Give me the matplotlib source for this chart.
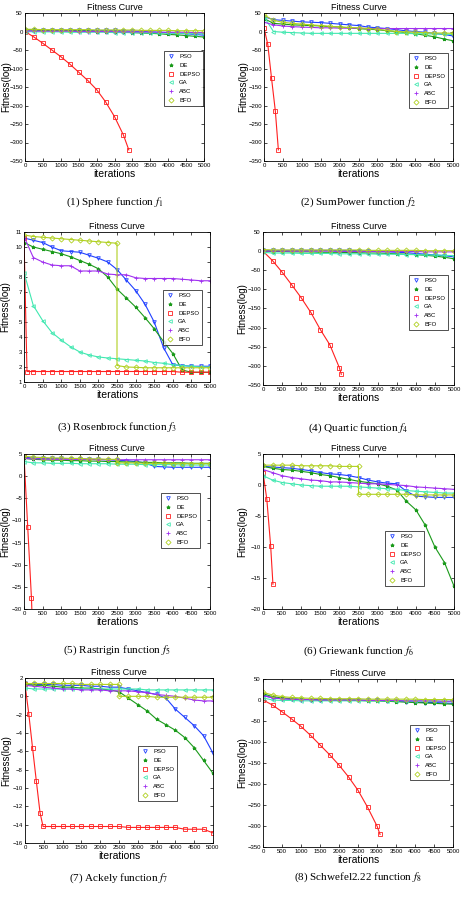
import numpy as np
import matplotlib
matplotlib.use("Agg")
import matplotlib.pyplot as plt
from matplotlib.lines import Line2D

plt.rcParams['font.family'] = ['Liberation Sans', 'DejaVu Sans']
plt.rcParams['mathtext.fontset'] = 'stix'

W, H = 461, 898

names = ['PSO', 'DE', 'DEPSO', 'GA', 'ABC', 'BFO']
colors = ['#2040ff', '#1a9a1a', '#ff2020', '#40e8b0', '#a030f0', '#b0d020']
markers = ['v', '*', 's', '<', '+', 'D']
filled = [False, True, False, False, True, False]

iters = list(range(0, 5001, 250))
step_x = iters[:11] + [2500] + iters[11:]

# (1) Sphere
sphere_pso = [5, 4, 4, 3.5, 3.5, 3, 3, 3, 3, 3, 3, 2, 1, 0, -1, -2, -3, -5, -6, -8, -10]
sphere_de = [5, 4, 3, 3, 2, 2, 1, 1, 0, 0, -1, -2, -3, -4, -5, -6, -8, -9, -11, -13, -15]
sphere_depso_x = iters[:12] + [2900]
sphere_depso = [0, -15, -32, -50, -68, -88, -110, -132, -157, -190, -230, -280, -320]
sphere_ga = [0, -1, -1, -1, -1, -2, -2, -2, -2, -2, -3, -3, -3, -3, -4, -4, -4, -5, -5, -6, -6]
sphere_abc = [2, 1, 1, 1, 1, 1, 0, 0, 0, 0, 0, -1, -1, -1, -1, -2, -2, -2, -2, -3, -3]
sphere_bfo = [6, 6, 5, 5, 5, 5, 5, 5, 4, 4, 4, 4, 4, 3, 3, 3, 3, 2, 2, 2, 2]

# (2) SumPower
sump_pso = [40, 32, 30, 28, 26, 25, 24, 22, 20, 18, 16, 12, 10, 8, 5, 2, 0, -2, -5, -8, -12]
sump_de = [35, 22, 20, 18, 17, 16, 15, 13, 12, 10, 8, 6, 5, 2, 0, -3, -6, -10, -14, -20, -25]
sump_depso_x = [0, 100, 200, 300, 380]
sump_depso = [10, -35, -127, -215, -320]
sump_ga = [40, 0, -2, -3, -4, -5, -5, -5, -5, -5, -5, -5, -5, -5, -5, -5, -6, -6, -7, -7, -8]
sump_abc = [25, 18, 15, 13, 12, 11, 10, 10, 9, 9, 9, 8, 8, 8, 8, 8, 8, 8, 8, 8, 8]
sump_bfo = [45, 30, 25, 22, 20, 18, 16, 14, 12, 11, 10, 8, 6, 3, 0, -1, -2, -3, -4, -4, -5]

# (3) Rosenbrock
rosen_pso = [10.6, 10.45, 10.3, 10.0, 9.75, 9.7, 9.65, 9.45, 9.25, 9.0, 8.5, 7.8, 7.1, 6.2, 5.0,
             3.3, 2.15, 2.1, 2.05, 2.05, 2.05]
rosen_de = [10.3, 10.0, 9.85, 9.7, 9.55, 9.35, 9.1, 8.85, 8.55, 8.0, 7.2, 6.6, 6.0, 5.3, 4.55,
            3.7, 2.9, 1.8, 1.65, 1.65, 1.65]
rosen_depso_x = [0, 80] + iters[1:]
rosen_depso = [10.6, 1.7, 1.7, 1.7, 1.7, 1.7, 1.7, 1.7, 1.7, 1.7, 1.7, 1.7, 1.7, 1.7, 1.7, 1.7,
               1.7, 1.7, 1.65, 1.65, 1.65, 1.65]
rosen_ga = [8.3, 6.1, 5.1, 4.3, 3.8, 3.35, 3.0, 2.8, 2.67, 2.6, 2.55, 2.5, 2.45, 2.4, 2.3,
            2.25, 2.15, 2.1, 2.05, 2.0, 2.0]
rosen_abc = [10.7, 9.3, 9.0, 8.8, 8.75, 8.75, 8.4, 8.4, 8.4, 8.2, 8.15, 8.15, 7.95, 7.9, 7.9,
             7.9, 7.9, 7.85, 7.8, 7.75, 7.75]
rosen_bfo = [10.8, 10.7, 10.65, 10.6, 10.55, 10.5, 10.45, 10.4, 10.35, 10.3, 10.25, 2.1,
             2.0, 1.98, 1.95, 1.95, 1.95, 1.95, 1.95, 1.95, 1.95, 1.95]

# (4) Quartic
quart_pso = [2, 2, 2, 2, 2, 2, 2, 2, 2, 2, 1, 0, -1, -2, -3, -4, -6, -8, -10, -12, -15]
quart_de = [0, -1, -1, -2, -2, -2, -3, -3, -3, -4, -4, -5, -5, -6, -7, -8, -9, -11, -13, -16, -20]
quart_depso_x = iters[:9] + [2050]
quart_depso = [0, -25, -55, -88, -122, -160, -205, -245, -305, -322]
quart_ga = [-3, -5, -5, -5, -6, -6, -6, -6, -7, -7, -7, -7, -8, -8, -8, -9, -9, -10, -10, -11, -12]
quart_abc = [0, 0, 0, 0, 0, 0, 0, 0, -1, -1, -1, -1, -1, -1, -1, -1, -1, -2, -2, -2, -2]
quart_bfo = [4, 3, 3, 3, 3, 3, 3, 3, 3, 3, 3, 2, 2, 2, 2, 2, 2, 1, 1, 1, 1]

# (5) Rastrigin
rast_pso = [4.3, 4.1, 4.0, 4.0, 4.0, 3.9, 3.9, 3.8, 3.8, 3.7, 3.6, 3.5, 3.3, 3.0, 2.2, 2.1,
            2.0, 2.0, 2.0, 2.0, 2.0]
rast_de = [4.0, 3.8, 3.7, 3.6, 3.6, 3.5, 3.5, 3.4, 3.4, 3.3, 3.3, 3.2, 3.2, 3.1, 3.1, 3.0,
           3.0, 3.0, 2.9, 2.9, 2.9]
rast_depso_x = [0, 100, 200, 215]
rast_depso = [4.5, -11.5, -27.5, -31]
rast_ga = [3.3, 3.0, 3.0, 2.9, 2.9, 2.9, 2.8, 2.8, 2.8, 2.8, 2.7, 2.7, 2.7, 2.6, 2.6, 2.6,
           2.6, 2.5, 2.5, 2.5, 2.5]
rast_abc = [4.0, 3.9, 3.9, 3.8, 3.8, 3.8, 3.8, 3.8, 3.7, 3.7, 3.7, 3.7, 3.7, 3.7, 3.7, 3.7,
            3.7, 3.7, 3.7, 3.7, 3.7]
rast_bfo = [4.5, 4.3, 4.2, 4.1, 4.1, 4.0, 4.0, 3.9, 3.9, 3.8, 3.8, 3.0, 3.0, 3.0, 2.9, 2.9,
            2.9, 2.8, 2.8, 2.8, 2.8, 2.8]

# (6) Griewank
grie_pso = [3.0, 2.9, 2.8, 2.7, 2.5, 2.3, 2.0, 1.8, 1.7, 1.5, 1.2, 0.8, 0.5, 0.3, 0.2, -1.0,
            -1.8, -1.9, -2.0, -2.0, -2.0]
grie_de = [3.0, 2.7, 2.5, 2.4, 2.2, 2.0, 1.7, 1.5, 1.2, 0.9, 0.6, 0.4, 0.2, -0.2, -0.8, -2.6,
           -4.0, -6.5, -10.0, -12.5, -16.3]
grie_depso_x = [0, 100, 200, 260]
grie_depso = [2.0, -2.3, -9.8, -16]
grie_ga = [1.5, 0.8, 0.4, 0.2, 0.0, -0.1, -0.2, -0.2, -0.2, -0.2, -0.3, -0.4, -0.5, -0.6,
           -0.7, -0.9, -1.0, -1.1, -1.2, -1.3, -1.3]
grie_abc = [2.5, 2.0, 1.5, 1.2, 1.0, 0.8, 0.7, 0.5, 0.5, 0.4, 0.3, 0.2, 0.2, 0.1, 0.0, -0.1,
            -0.3, -0.4, -0.5, -0.6, -0.7]
grie_bfo = [3.2, 3.2, 3.2, 3.2, 3.1, 3.1, 3.1, 3.1, 3.0, 3.0, 3.0, -1.5, -1.5, -1.5, -1.5,
            -1.5, -1.5, -1.6, -1.6, -1.6, -1.6, -1.6]

# (7) Ackley
ack_pso = [1.4, 1.3, 1.3, 1.3, 1.2, 1.2, 1.2, 1.1, 1.1, 1.0, 1.0, 0.8, 0.6, 0.4, 0.2, -0.2,
           -1.4, -2.3, -3.2, -4.3, -6.2]
ack_de = [1.3, 1.2, 1.2, 1.1, 1.0, 1.0, 0.9, 0.9, 0.8, 0.7, 0.5, -0.2, -0.9, -1.6, -2.5, -3.1,
          -3.7, -4.5, -5.6, -7.0, -8.4]
ack_depso_x = [0, 100, 200, 300, 400, 480] + iters[3:]
ack_depso = [1.3, -1.9, -5.6, -9.2, -12.7, -14.2, -14.2, -14.2, -14.2, -14.2, -14.2, -14.2,
             -14.2, -14.2, -14.3, -14.3, -14.3, -14.3, -14.3, -14.3, -14.5, -14.5, -14.5, -14.9]
ack_ga = [0.9, 0.8, 0.8, 0.8, 0.8, 0.8, 0.8, 0.8, 0.8, 0.8, 0.8, 0.8, 0.8, 0.7, 0.7, 0.7,
          0.7, 0.7, 0.7, 0.7, 0.7]
ack_abc = [1.2, 1.1, 1.0, 0.9, 0.8, 0.8, 0.7, 0.7, 0.7, 0.6, 0.6, 0.6, 0.5, 0.4, 0.2, 0.1,
           0.0, -0.2, -0.4, -0.5, -0.5]
ack_bfo = [1.4, 1.4, 1.4, 1.4, 1.4, 1.4, 1.3, 1.3, 1.3, 1.3, 1.3, 0.0, 0.0, 0.0, 0.0, -0.1,
           -0.1, -0.1, -0.1, -0.1, -0.1, -0.1]

# (8) Schwefel2.22
schw_pso = [12, 5, 3, 2, 1, 1, 0, 0, 0, 0, 0, -1, -1, -2, -3, -4, -5, -6, -6, -7, -8]
schw_de = [15, 8, 5, 3, 2, 1, 0, 0, 0, -1, -1, -2, -2, -3, -4, -5, -6, -7, -8, -9, -10]
schw_depso_x = iters[:13] + [3080]
schw_depso = [0, -12, -28, -45, -63, -84, -107, -130, -155, -183, -215, -255, -300, -320]
schw_ga = [5, 0, -1, -1, -2, -2, -2, -2, -2, -2, -2, -2, -2, -2, -2, -2, -2, -3, -3, -3, -3]
schw_abc = [10, 5, 3, 2, 1, 1, 0, 0, 0, 0, 0, -1, -1, -1, -1, -2, -2, -2, -2, -3, -3]
schw_bfo = [18, 12, 8, 6, 5, 4, 4, 3, 3, 3, 3, 2, 2, 2, 2, 2, 2, 1, 1, 1, 1]

captions = ['(1) Sphere function $f_1$', '(2) SumPower function $f_2$',
            '(3) Rosenbrock function $f_3$', '(4) Quartic function $f_4$',
            '(5) Rastrigin function $f_5$', '(6) Griewank function $f_6$',
            '(7) Ackely function $f_7$', '(8) Schwefel2.22 function $f_8$']

big_ticks = list(range(-350, 51, 50))
panels = [
    dict(series=[(iters, sphere_pso), (iters, sphere_de), (sphere_depso_x, sphere_depso),
                 (iters, sphere_ga), (iters, sphere_abc), (iters, sphere_bfo)],
         box=(25, 13, 204, 161), ylim=(-350, 50), yticks=big_ticks, leg=(203, 51), cap_y=202),
    dict(series=[(iters, sump_pso), (iters, sump_de), (sump_depso_x, sump_depso),
                 (iters, sump_ga), (iters, sump_abc), (iters, sump_bfo)],
         box=(264, 13, 453, 161), ylim=(-350, 50), yticks=big_ticks, leg=(448, 53), cap_y=202),
    dict(series=[(iters, rosen_pso), (iters, rosen_de), (rosen_depso_x, rosen_depso),
                 (iters, rosen_ga), (iters, rosen_abc), (step_x, rosen_bfo)],
         box=(24, 232, 210, 382), ylim=(1, 11), yticks=list(range(1, 12)), leg=(202, 290), cap_y=427),
    dict(series=[(iters, quart_pso), (iters, quart_de), (quart_depso_x, quart_depso),
                 (iters, quart_ga), (iters, quart_abc), (iters, quart_bfo)],
         box=(263, 232, 454, 385), ylim=(-350, 50), yticks=big_ticks, leg=(448, 275), cap_y=428),
    dict(series=[(iters, rast_pso), (iters, rast_de), (rast_depso_x, rast_depso),
                 (iters, rast_ga), (iters, rast_abc), (step_x, rast_bfo)],
         box=(24, 454, 210, 609), ylim=(-30, 5), yticks=list(range(-30, 6, 5)), leg=(200, 493), cap_y=650),
    dict(series=[(iters, grie_pso), (iters, grie_de), (grie_depso_x, grie_depso),
                 (iters, grie_ga), (iters, grie_abc), (step_x, grie_bfo)],
         box=(263, 454, 454, 609), ylim=(-20, 5), yticks=list(range(-20, 6, 5)), leg=(424, 531), cap_y=651),
    dict(series=[(iters, ack_pso), (iters, ack_de), (ack_depso_x, ack_depso),
                 (iters, ack_ga), (iters, ack_abc), (step_x, ack_bfo)],
         box=(25, 678, 213, 843), ylim=(-16, 2), yticks=list(range(-16, 3, 2)), leg=(177, 746), cap_y=878),
    dict(series=[(iters, schw_pso), (iters, schw_de), (schw_depso_x, schw_depso),
                 (iters, schw_ga), (iters, schw_abc), (iters, schw_bfo)],
         box=(263, 679, 453, 847), ylim=(-350, 50), yticks=big_ticks, leg=(449, 725), cap_y=877),
]

fig = plt.figure(figsize=(W / 100, H / 100), dpi=100)

for p, cap in zip(panels, captions):
    l, t, r, b = p['box']
    ax = fig.add_axes([l / W, 1 - b / H, (r - l) / W, (b - t) / H])
    for (x, y), c, m, f in zip(p['series'], colors, markers, filled):
        ax.plot(x, y, color=c, lw=0.8, marker=m, ms=2.6, mew=0.6,
                mfc=c if f else 'none', mec=c, clip_on=True)
    ax.set_xlim(0, 5000)
    ax.set_ylim(*p['ylim'])
    ax.set_xticks(range(0, 5001, 500))
    ax.set_yticks(p['yticks'])
    ax.tick_params(direction='in', length=2, width=0.5, labelsize=4.3, pad=1.5,
                   top=True, right=True)
    for s in ax.spines.values():
        s.set_linewidth(0.6)
    ax.set_title('Fitness Curve', fontsize=6.5, pad=2)
    ax.set_xlabel('iterations', fontsize=7.5, labelpad=1)
    ax.set_ylabel('Fitness(log)', fontsize=7)
    # right edge of the y label: a fixed gap left of the axes, clear of the tick labels
    gap = 14 if l < 100 else 16
    ax.yaxis.set_label_coords(-gap / (r - l), 0.5)

    handles = [Line2D([], [], ls='none', color=c, marker=m, ms=2.6, mew=0.6,
                      mfc=c if f else 'none', mec=c)
               for c, m, f in zip(colors, markers, filled)]
    lx, ly = p['leg']
    leg = ax.legend(handles, names, loc='upper right',
                    bbox_to_anchor=(lx / W, 1 - ly / H), bbox_transform=fig.transFigure,
                    fontsize=4.3, frameon=True, fancybox=False, borderpad=0.5,
                    labelspacing=0.6, handlelength=1.2, handletextpad=0.8,
                    borderaxespad=0)
    leg.get_frame().set_edgecolor('black')
    leg.get_frame().set_linewidth(0.6)

    fig.text((l + r) / 2 / W, 1 - p['cap_y'] / H, cap, ha='center', va='center',
             fontsize=8, family='Liberation Serif')

fig.savefig('out.png', dpi=100)
